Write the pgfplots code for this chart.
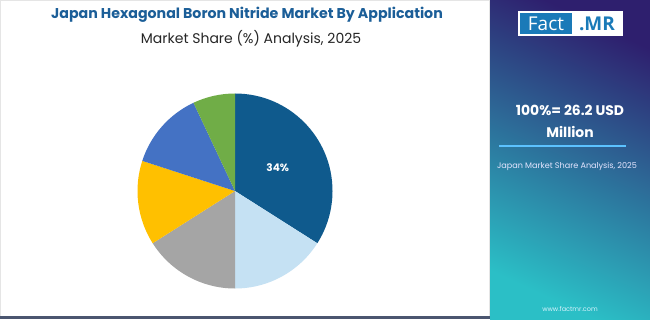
\documentclass[border=0pt]{standalone}
\usepackage{pgfplots}
\pgfplotsset{compat=1.18}
\usepackage{pgfplotstable}
\usepackage{fontspec}
\setmainfont{Poppins}
\newfontfamily\logofont{Open Sans}
\definecolor{c1}{HTML}{0F5A8D}
\definecolor{c2}{HTML}{C5E1F3}
\definecolor{c3}{HTML}{A5A5A5}
\definecolor{c4}{HTML}{FFC000}
\definecolor{c5}{HTML}{4472C4}
\definecolor{c6}{HTML}{70AD47}
\definecolor{titleblue}{HTML}{1B5E98}
\definecolor{panelTop}{HTML}{2E1F6E}
\definecolor{panelBot}{HTML}{2BBFC6}
\definecolor{logoblue}{HTML}{1A7AB8}
\definecolor{bar}{HTML}{4B5670}

\pgfplotstableread{
share color
34 c1
16 c2
16 c3
14 c4
13 c5
7 c6
}\piedata

\begin{document}
\begin{tikzpicture}
\path[use as bounding box] (0,0) rectangle (650pt,319pt);
\fill[white] (0,0) rectangle (490pt,319pt);
\draw[black!10, line width=0.6pt] (0.5pt,0.5pt) rectangle (489.5pt,318.5pt);
\fill[bar] (0,0) rectangle (492pt,3pt);
\shade[top color=panelTop, bottom color=panelBot, shading angle=-25] (490pt,0) rectangle (650pt,319pt);

% title
\node[font=\bfseries\fontsize{14.2}{16}\selectfont, text=titleblue] at (247pt,304pt) {Japan Hexagonal Boron Nitride Market By Application};
\node[font=\fontsize{14}{16}\selectfont, text=black!85] at (251pt,280pt) {Market Share (\%) Analysis, 2025};

% logo
\fill[white] (518pt,283pt) rectangle (623pt,308pt);
\fill[logoblue] (520pt,285pt) rectangle (572pt,306pt);
\node[font=\logofont\fontsize{19}{19}\selectfont, text=white] at (546pt,295.5pt) {Fact};
\node[font=\logofont\bfseries\fontsize{19}{19}\selectfont, text=logoblue] at (597pt,295.5pt) {.MR};

% right panel text
\node[font=\bfseries\fontsize{13.9}{16}\selectfont, text=white] at (570pt,209pt) {100\%= 26.2 USD};
\node[font=\bfseries\fontsize{13.9}{16}\selectfont, text=white] at (570pt,187pt) {Million};
\draw[color=white!60!blue!60!cyan, line width=1.5pt] (499pt,173pt) -- (626pt,173pt);
\node[font=\fontsize{8.1}{10}\selectfont, text=white!90!blue] at (567pt,153pt) {Japan Market Share Analysis, 2025};
\node[font=\fontsize{6.5}{8}\selectfont, text=white!85!cyan] at (570pt,10pt) {www.factmr.com};

\begin{axis}[at={(235pt,128pt)}, anchor=center, x=97.5pt, y=97.5pt,
  xmin=-1, xmax=1, ymin=-1, ymax=1, hide axis, clip=false]
\def\cum{0}
\pgfplotsforeachungrouped \i in {0,...,5}{%
  \pgfplotstablegetelem{\i}{share}\of\piedata \let\v\pgfplotsretval
  \pgfplotstablegetelem{\i}{color}\of\piedata \let\c\pgfplotsretval
  \pgfmathsetmacro\sa{90-3.6*\cum}%
  \pgfmathsetmacro\ea{90-3.6*(\cum+\v)}%
  \pgfmathsetmacro\xs{cos(\sa)}%
  \pgfmathsetmacro\ys{sin(\sa)}%
  \pgfmathsetmacro\ma{(\sa+\ea)/2}%
  \pgfmathsetmacro\xl{0.5*cos(\ma)}%
  \pgfmathsetmacro\yl{0.5*sin(\ma)}%
  \edef\cmd{\noexpand\fill[\c] (axis cs:0,0) -- (axis cs:\xs,\ys) arc[start angle=\sa, end angle=\ea, radius=1] -- cycle;}%
  \cmd
  \ifnum\i=0
    \edef\cmd{\noexpand\node[font=\noexpand\bfseries\noexpand\fontsize{10.5}{12}\noexpand\selectfont, text=white] at (axis cs:\xl,\yl) {\v\noexpand\%};}%
    \cmd
  \fi
  \pgfmathsetmacro\cum{\cum+\v}%
}
\end{axis}
\end{tikzpicture}
\end{document}
